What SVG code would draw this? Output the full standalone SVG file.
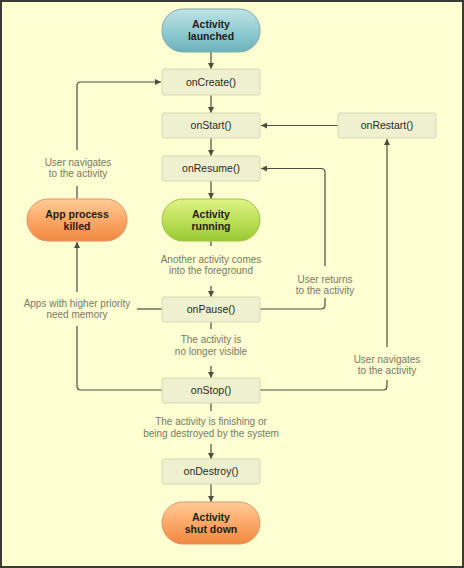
<svg xmlns="http://www.w3.org/2000/svg" width="464" height="568" viewBox="0 0 464 568">
<defs>
<linearGradient id="gTeal" x1="0" y1="0" x2="0" y2="1"><stop offset="0" stop-color="#bfe4e6"/><stop offset="0.5" stop-color="#92ccd2"/><stop offset="1" stop-color="#6eb2bc"/></linearGradient>
<linearGradient id="gGreen" x1="0" y1="0" x2="0" y2="1"><stop offset="0" stop-color="#def484"/><stop offset="0.5" stop-color="#bde05a"/><stop offset="1" stop-color="#98c930"/></linearGradient>
<linearGradient id="gOrange" x1="0" y1="0" x2="0" y2="1"><stop offset="0" stop-color="#ffcc96"/><stop offset="0.5" stop-color="#fca868"/><stop offset="1" stop-color="#f08840"/></linearGradient>
<marker id="arr" viewBox="0 0 10 10" refX="10" refY="5" markerWidth="6" markerHeight="6" markerUnits="userSpaceOnUse" orient="auto"><path d="M0,0 L10,5 L0,10 z" fill="#4d4d40"/></marker>
<style>
.m{fill:#eff0cf;stroke:#d8d9b4;stroke-width:1}
.mt{font-family:"Liberation Sans",Arial,sans-serif;font-size:10.5px;fill:#2a2a22;text-anchor:middle}
.bt{font-family:"Liberation Sans",Arial,sans-serif;font-size:10.5px;font-weight:bold;fill:#1e1e18;text-anchor:middle}
.lb{font-family:"Liberation Sans",Arial,sans-serif;font-size:10px;fill:#7a7a62;text-anchor:middle}
.c{fill:none;stroke:#4d4d40;stroke-width:1.2}
.ca{fill:none;stroke:#4d4d40;stroke-width:1.2;marker-end:url(#arr)}
</style>
</defs>
<rect x="0" y="0" width="464" height="568" fill="#fefed3"/>
<rect x="1" y="1" width="462" height="566" fill="none" stroke="#3a3a32" stroke-width="2"/>

<g id="connectors">
<path class="ca" d="M211,52 V69"/>
<path class="ca" d="M211,95 V113"/>
<path class="ca" d="M211,138 V156"/>
<path class="ca" d="M211,181 V199"/>
<path class="c" d="M211,241 V246"/>
<path class="ca" d="M211,286 V297"/>
<path class="c" d="M211,322 V329"/>
<path class="ca" d="M211,366 V378"/>
<path class="c" d="M211,403 V411"/>
<path class="ca" d="M211,444 V459"/>
<path class="ca" d="M211,484 V502"/>
<path class="ca" d="M338,125.5 H261"/>
<path class="ca" d="M387,347 V139"/>
<path class="c" d="M260,390 H383 Q387,390 387,386 V380"/>
<path class="ca" d="M325,266 V172.5 Q325,168.5 321,168.5 H261"/>
<path class="c" d="M260,309 H321 Q325,309 325,305 V298"/>
<path class="c" d="M162,390 H81 Q77,390 77,386 V326"/>
<path class="ca" d="M77,292 V242"/>
<path class="c" d="M162,309 H137"/>
<path class="ca" d="M77,150 V86 Q77,82 81,82 H161"/>
<path class="c" d="M77,186 V199"/>
</g>

<g id="launched"><rect x="162" y="9" width="98" height="43" rx="21" fill="url(#gTeal)" stroke="#7eaab0"/><text class="bt" x="211" y="28">Activity</text><text class="bt" x="211" y="40">launched</text></g>
<g id="onCreate"><rect class="m" x="162" y="69" width="98" height="26" rx="2"/><text class="mt" x="211" y="86">onCreate()</text></g>
<g id="onStart"><rect class="m" x="162" y="113" width="98" height="25" rx="2"/><text class="mt" x="211" y="129">onStart()</text></g>
<g id="onRestart"><rect class="m" x="338" y="113" width="98" height="25" rx="2"/><text class="mt" x="387" y="129">onRestart()</text></g>
<g id="onResume"><rect class="m" x="162" y="156" width="98" height="25" rx="2"/><text class="mt" x="211" y="172">onResume()</text></g>
<g id="running"><rect x="162" y="199" width="98" height="42" rx="21" fill="url(#gGreen)" stroke="#a2c248"/><text class="bt" x="211" y="218">Activity</text><text class="bt" x="211" y="230">running</text></g>
<g id="killed"><rect x="27" y="199" width="100" height="42" rx="21" fill="url(#gOrange)" stroke="#e2946a"/><text class="bt" x="77" y="218">App process</text><text class="bt" x="77" y="230">killed</text></g>
<g id="onPause"><rect class="m" x="162" y="297" width="98" height="25" rx="2"/><text class="mt" x="211" y="313">onPause()</text></g>
<g id="onStop"><rect class="m" x="162" y="378" width="98" height="25" rx="2"/><text class="mt" x="211" y="394">onStop()</text></g>
<g id="onDestroy"><rect class="m" x="162" y="459" width="98" height="25" rx="2"/><text class="mt" x="211" y="475">onDestroy()</text></g>
<g id="shutdown"><rect x="162" y="502" width="98" height="42" rx="21" fill="url(#gOrange)" stroke="#e2946a"/><text class="bt" x="211" y="521">Activity</text><text class="bt" x="211" y="533">shut down</text></g>

<g id="labels">
<text class="lb" x="78" y="166">User navigates</text><text class="lb" x="78" y="177">to the activity</text>
<text class="lb" x="211" y="263">Another activity comes</text><text class="lb" x="211" y="274">into the foreground</text>
<text class="lb" x="325" y="283">User returns</text><text class="lb" x="325" y="294">to the activity</text>
<text class="lb" x="77" y="307">Apps with higher priority</text><text class="lb" x="77" y="318">need memory</text>
<text class="lb" x="211" y="343">The activity is</text><text class="lb" x="211" y="355">no longer visible</text>
<text class="lb" x="387" y="363">User navigates</text><text class="lb" x="387" y="374">to the activity</text>
<text class="lb" x="211" y="425">The activity is finishing or</text><text class="lb" x="211" y="437">being destroyed by the system</text>
</g>
</svg>
